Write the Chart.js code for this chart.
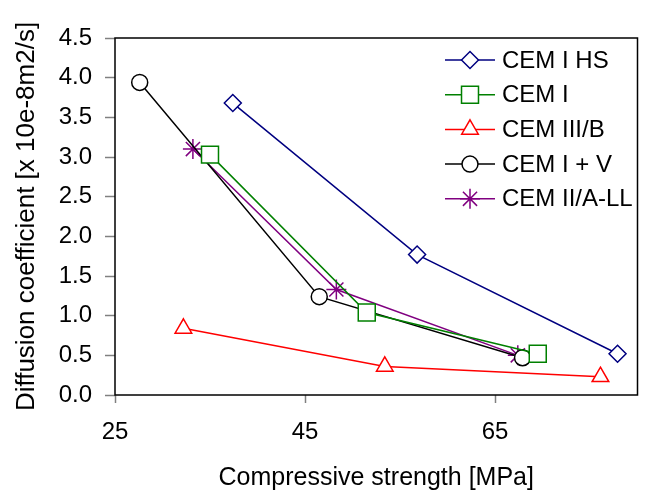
<!DOCTYPE html>
<html>
<head>
<meta charset="utf-8">
<script src="https://cdn.jsdelivr.net/npm/chart.js@4.4.1/dist/chart.umd.min.js"></script>
<style>
  html, body { margin: 0; padding: 0; background: #fff; }
  #wrap { width: 651px; height: 493px; }
</style>
</head>
<body>
<div id="wrap"><canvas id="chart1"></canvas></div>
<script>
const ctx = document.getElementById('chart1').getContext('2d');

const nomes = ['CEM I HS', 'CEM I', 'CEM III/B', 'CEM I + V', 'CEM II/A-LL'];
const cores = ['#000080', '#008000', '#ff0000', '#000000', '#800080'];
const marcadores = ['rectRot', 'rect', 'triangle', 'circle', 'star'];
const raios = [8.5, 12, 9.6, 8, 10];

// compressive strength [MPa], diffusion coefficient [x 10e-8 m2/s]
const xHS = [37.4, 56.8, 77.9];
const yHS = [3.68, 1.77, 0.52];
const xCemI = [35.0, 51.5, 69.5];
const yCemI = [3.03, 1.04, 0.52];
const xCemIII = [32.2, 53.4, 76.1];
const yCemIII = [0.84, 0.36, 0.23];
const xCemIV = [27.6, 46.5, 67.9];
const yCemIV = [3.94, 1.24, 0.47];
const xCemII = [33.2, 48.3, 67.4];
const yCemII = [3.10, 1.33, 0.50];

const ticksX = [25, 45, 65];
const ticksY = [0, 0.5, 1, 1.5, 2, 2.5, 3, 3.5, 4, 4.5];

const series = [[xHS, yHS], [xCemI, yCemI], [xCemIII, yCemIII], [xCemIV, yCemIV], [xCemII, yCemII]];

const fonte = 'Liberation Sans, Arial, sans-serif';

const datasets = series.map((s, i) => ({
  label: nomes[i],
  data: s[0].map((x, j) => ({ x: x, y: s[1][j] })),
  borderColor: cores[i],
  backgroundColor: '#ffffff',
  borderWidth: 1.5,
  pointStyle: marcadores[i],
  pointRadius: raios[i],
  pointBorderWidth: 1.5,
  pointBorderColor: cores[i],
  pointBackgroundColor: '#ffffff',
  showLine: true,
  tension: 0
}));

// legend inside the plot + plot frame
const legendaDentro = {
  id: 'legendaDentro',
  afterDatasetsDraw(chart) {
    const c = chart.ctx;
    const a = chart.chartArea;
    c.save();
    c.strokeStyle = '#000';
    c.lineWidth = 1.5;
    c.strokeRect(a.left, a.top, a.right - a.left, a.bottom - a.top);
    chart.data.datasets.forEach((ds, i) => {
      const y = 60 + i * 34.7;
      c.strokeStyle = ds.borderColor;
      c.lineWidth = 1.5;
      c.beginPath();
      c.moveTo(445, y);
      c.lineTo(495, y);
      c.stroke();
      c.fillStyle = '#fff';
      Chart.helpers.drawPoint(c, { pointStyle: ds.pointStyle, radius: ds.pointRadius, borderWidth: 1.5, rotation: 0 }, 470, y);
      c.fillStyle = '#000';
      c.font = '24px ' + fonte;
      c.textAlign = 'left';
      c.textBaseline = 'middle';
      c.fillText(ds.label, 502, y + 1);
    });
    c.restore();
  }
};

new Chart(ctx, {
  type: 'scatter',
  data: { datasets: datasets },
  plugins: [legendaDentro],
  options: {
    responsive: true,
    maintainAspectRatio: false,
    animation: false,
    layout: { padding: { top: 38, right: 8, left: 0, bottom: 0 } },
    plugins: {
      legend: { display: false },
      tooltip: { enabled: false }
    },
    scales: {
      x: {
        type: 'linear',
        min: 25,
        max: 80,
        afterBuildTicks: (s) => { s.ticks = ticksX.map(v => ({ value: v })); },
        afterFit: (s) => { s.height = 98; },
        grid: { drawOnChartArea: false, tickLength: 8, tickColor: '#808080', tickWidth: 1.5 },
        border: { display: false },
        ticks: { color: '#000', font: { family: fonte, size: 24 }, padding: 15, maxRotation: 0 },
        title: {
          display: true,
          text: 'Compressive strength [MPa]',
          color: '#000',
          font: { family: fonte, size: 25 },
          padding: { top: 0, bottom: 0 }
        }
      },
      y: {
        min: 0,
        max: 4.5,
        afterBuildTicks: (s) => { s.ticks = ticksY.map(v => ({ value: v })); },
        afterFit: (s) => { s.width = 115; },
        grid: { drawOnChartArea: false, tickLength: 10, tickColor: '#808080', tickWidth: 1.5 },
        border: { display: false },
        ticks: {
          color: '#000',
          font: { family: fonte, size: 24 },
          padding: 13,
          callback: (v) => Number(v).toFixed(1)
        },
        title: {
          display: true,
          text: 'Diffusion coefficient [x 10e-8m2/s]',
          color: '#000',
          font: { family: fonte, size: 26 },
          padding: { top: 11, bottom: 0 }
        }
      }
    }
  }
});
</script>
</body>
</html>
